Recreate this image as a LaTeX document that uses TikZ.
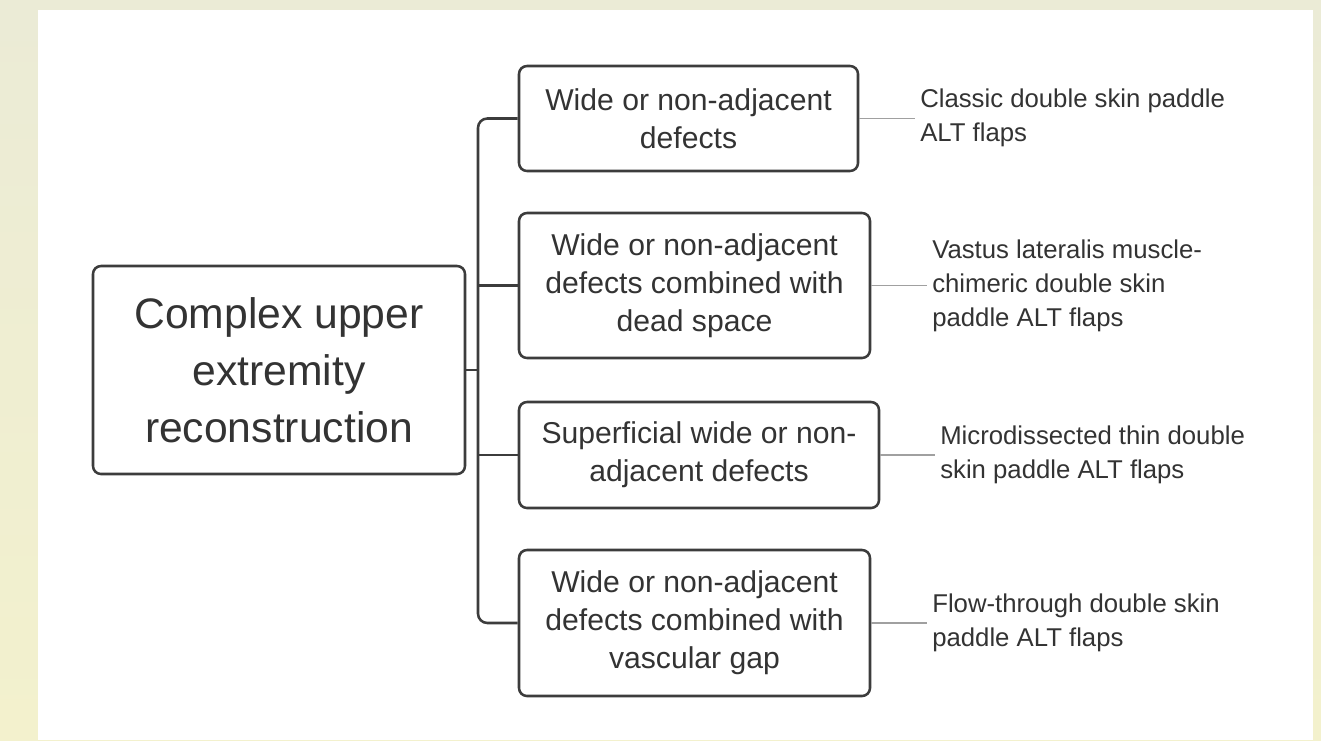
\documentclass[tikz,border=0pt]{standalone}
\usepackage{fontspec}
\setmainfont{Liberation Sans}
\definecolor{bgtop}{HTML}{EBEBD6}
\definecolor{bgbot}{HTML}{F3F1CD}
\definecolor{linec}{HTML}{3C3C3C}
\definecolor{txtc}{HTML}{333333}
\definecolor{thinc}{HTML}{A0A0A0}
\begin{document}
\begin{tikzpicture}[x=0.75pt,y=-0.75pt,
  box/.style={draw=linec, line width=1.9pt, rounded corners=6pt, align=center, text=txtc, inner sep=0pt},
  midbox/.style={box, font=\fontsize{22.6}{28.5}\selectfont},
  mainbox/.style={box, font=\fontsize{32}{42.75}\selectfont},
  lbl/.style={anchor=west, align=left, text=txtc, inner sep=0pt, font=\fontsize{19.3}{25.5}\selectfont},
  conn/.style={draw=linec, line width=1.9pt},
  thin/.style={draw=thinc, line width=1.1pt, shorten >=4pt}]
\useasboundingbox (0,0) rectangle (1321,740);
\shade[top color=bgtop, bottom color=bgbot] (0,0) rectangle (1321,740);
\fill[white] (38,10) rectangle (1313,740);

\node[mainbox, minimum width={372*0.75pt}, minimum height={208*0.75pt}] (m) at (279,370) {Complex upper\\extremity\\reconstruction};

\node[midbox, minimum width={339*0.75pt}, minimum height={105*0.75pt}] (b1) at (688.5,118.5) {Wide or non-adjacent\\defects};
\node[midbox, minimum width={351*0.75pt}, minimum height={145*0.75pt}] (b2) at (694.5,285.5) {Wide or non-adjacent\\defects combined with\\dead space};
\node[midbox, minimum width={360*0.75pt}, minimum height={106*0.75pt}] (b3) at (699,455) {Superficial wide or non-\\adjacent defects};
\node[midbox, minimum width={351*0.75pt}, minimum height={146*0.75pt}] (b4) at (694.5,623) {Wide or non-adjacent\\defects combined with\\vascular gap};

\node[lbl] (l1) at (920,117.5) {Classic double skin paddle\\ALT flaps};
\node[lbl] (l2) at (932,286) {Vastus lateralis muscle-\\chimeric double skin\\paddle ALT flaps};
\node[lbl] (l3) at (940,455) {Microdissected thin double\\skin paddle ALT flaps};
\node[lbl] (l4) at (932,623) {Flow-through double skin\\paddle ALT flaps};

\coordinate (sp) at (478,370);
\draw[conn] (m.east) -- (sp);
\draw[conn, rounded corners=7pt] (b1.west) -- (b1.west -| sp) -- (b4.west -| sp) -- (b4.west);
\draw[conn] (b2.west -| sp) -- (b2.west);
\draw[conn] (b3.west -| sp) -- (b3.west);

\draw[thin] (b1.east) -- (b1.east -| l1.west);
\draw[thin] (b2.east) -- (b2.east -| l2.west);
\draw[thin] (b3.east) -- (b3.east -| l3.west);
\draw[thin] (b4.east) -- (b4.east -| l4.west);
\end{tikzpicture}
\end{document}
